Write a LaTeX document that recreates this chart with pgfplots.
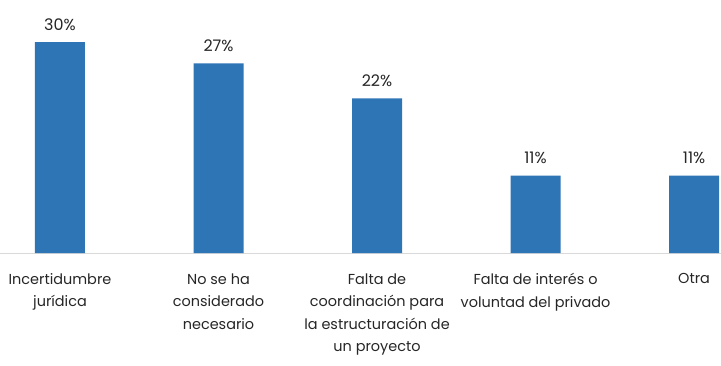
\documentclass[border=0pt]{standalone}
\usepackage{pgfplots}
\pgfplotsset{compat=1.18}
\usepackage{fontspec}
\setmainfont{Poppins}
\definecolor{barblue}{HTML}{2E75B6}
\definecolor{txt}{HTML}{262626}
\begin{document}
\begin{tikzpicture}[x=1bp,y=1bp]
\begin{axis}[
  at={(0,0)}, anchor=south west,
  scale only axis, width=721bp, height=253bp,
  xmin=-0.3785, xmax=4.170, ymin=0, ymax=36,
  axis x line=bottom, axis y line=none,
  axis line style={-, draw=black!15, line width=1pt},
  xtick={0,1,2,3,4}, major tick length=0pt,
  xticklabels={{Incertidumbre\\jurídica},{No se ha\\considerado\\necesario},{Falta de\\coordinación para\\la estructuración de\\un proyecto},{Falta de interés o\\voluntad del privado},{Otra}},
  xticklabel style={align=center, text=txt, font=\fontsize{14.5}{22.5}\selectfont, yshift=-17bp},
  ybar, bar width=50bp,
  /pgf/number format/assume math mode=true,
  nodes near coords={\pgfmathprintnumber{\pgfplotspointmeta}\%},
  every node near coord/.append style={text=txt, font=\fontsize{16}{18}\selectfont, yshift=8bp},
  clip=false,
]
\addplot[fill=barblue, draw=none] coordinates {(0,30) (1,27) (2,22) (3,11) (4,11)};
\end{axis}
\pgfresetboundingbox
\path[use as bounding box] (0,-113bp) rectangle (721bp,253bp);
\end{tikzpicture}
\end{document}
